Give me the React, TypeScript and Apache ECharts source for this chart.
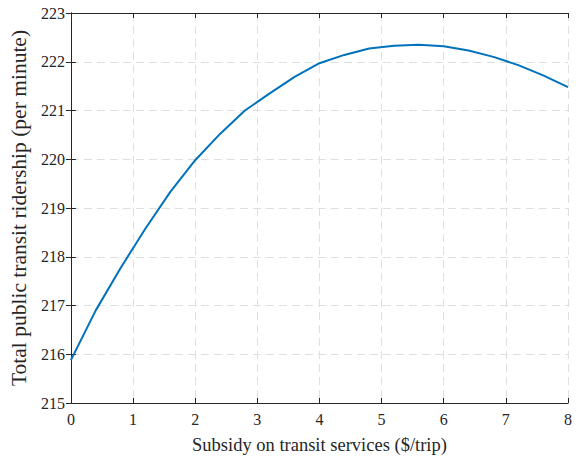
import React, { useEffect, useRef } from "react";
import * as echarts from "echarts";

const subsidy = [0, 0.4, 0.8, 1.2, 1.6, 2.0, 2.4, 2.8, 3.2, 3.6, 4.0, 4.4, 4.8, 5.2, 5.6, 6.0, 6.4, 6.8, 7.2, 7.6, 8.0];
const ridership = [215.88, 216.9, 217.77, 218.58, 219.33, 219.98, 220.52, 221.0, 221.35, 221.69, 221.97, 222.14, 222.27, 222.33, 222.35, 222.32, 222.23, 222.1, 221.93, 221.72, 221.48];

const xTitle = "Subsidy on transit services ($/trip)";
const yTitle = "Total public transit ridership (per minute)";

export default function App() {
  const ref = useRef<HTMLDivElement>(null);
  useEffect(() => {
    if (!ref.current) return;
    const chart = echarts.init(ref.current, null, { renderer: "svg" });
    const font = "Liberation Serif";
    const axisLine = { show: true, lineStyle: { color: "#262626", width: 1 } };
    const gridLine = { show: true, lineStyle: { color: "#dfdfdf", type: [8, 5] as any, width: 1 } };
    chart.setOption({
      animation: false,
      backgroundColor: "#ffffff",
      textStyle: { fontFamily: font },
      grid: { left: 68, top: 13, right: 8, bottom: 52, containLabel: false },
      xAxis: [
        {
          type: "value",
          min: 0,
          max: 8,
          interval: 1,
          position: "bottom",
          name: xTitle,
          nameLocation: "middle",
          nameGap: 32,
          nameTextStyle: { fontFamily: font, fontSize: 18.5, color: "#262626" },
          axisLine,
          axisTick: { show: true, inside: true, length: 5, lineStyle: { color: "#262626" } },
          axisLabel: { fontFamily: font, fontSize: 16, color: "#262626", margin: 8 },
          splitLine: gridLine,
        },
        {
          type: "value",
          min: 0,
          max: 8,
          interval: 1,
          position: "top",
          axisLine,
          axisTick: { show: true, inside: true, length: 5, lineStyle: { color: "#262626" } },
          axisLabel: { show: false },
          splitLine: { show: false },
        },
      ],
      yAxis: [
        {
          type: "value",
          min: 215,
          max: 223,
          interval: 1,
          position: "left",
          name: yTitle,
          nameLocation: "middle",
          nameGap: 33,
          nameRotate: 90,
          nameTextStyle: { fontFamily: font, fontSize: 21.5, color: "#262626" },
          axisLine,
          axisTick: { show: true, inside: true, length: 5, lineStyle: { color: "#262626" } },
          axisLabel: { fontFamily: font, fontSize: 16, color: "#262626", margin: 6 },
          splitLine: gridLine,
        },
        {
          type: "value",
          min: 215,
          max: 223,
          interval: 1,
          position: "right",
          axisLine,
          axisTick: { show: true, inside: true, length: 5, lineStyle: { color: "#262626" } },
          axisLabel: { show: false },
          splitLine: { show: false },
        },
      ],
      series: [
        {
          type: "line",
          xAxisIndex: 0,
          yAxisIndex: 0,
          data: subsidy.map((x, i) => [x, ridership[i]]),
          showSymbol: false,
          lineStyle: { color: "#0072BD", width: 2 },
          itemStyle: { color: "#0072BD" },
        },
      ],
    });
    return () => chart.dispose();
  }, []);
  return <div ref={ref} style={{ width: 576, height: 459, position: "absolute", left: 0, top: 0 }} />;
}
